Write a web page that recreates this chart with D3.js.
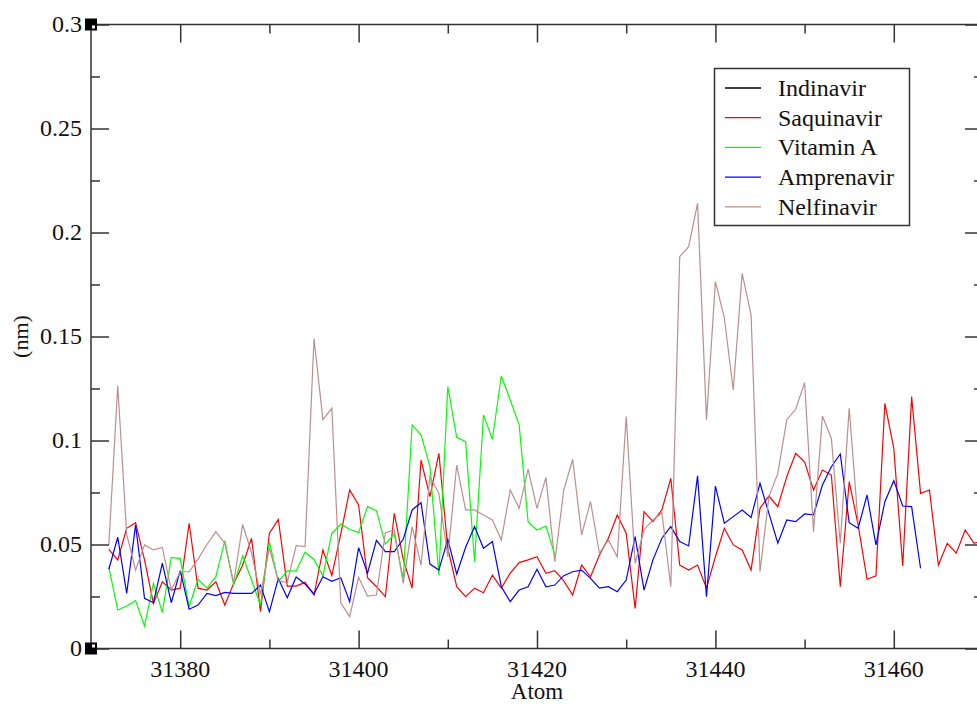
<!DOCTYPE html>
<html>
<head>
<meta charset="utf-8">
<script src="https://cdn.jsdelivr.net/npm/d3@7"></script>
<style>
  html, body { margin: 0; padding: 0; background: #fff; }
  svg { display: block; }
</style>
</head>
<body>
<script>
// first atom of every series, one value per atom after that
const startAtom = 31372;

const indinavir = []; // listed in the legend, no visible trace

const saquinavir = [
  0.0477, 0.0426, 0.0578, 0.0605, 0.0426, 0.0217, 0.0321, 0.0281, 0.029, 0.0602,
  0.029, 0.0281, 0.0321, 0.0209, 0.0313, 0.040, 0.053, 0.0177, 0.0554, 0.0621,
  0.030, 0.030, 0.0318, 0.0257, 0.0474, 0.0351, 0.055, 0.0762, 0.069, 0.034,
  0.0297, 0.0249, 0.065, 0.043, 0.029, 0.0906, 0.073, 0.0938, 0.0482, 0.0297,
  0.0249, 0.029, 0.0268, 0.0353, 0.029, 0.0362, 0.0413, 0.0426, 0.0441, 0.0362,
  0.0374, 0.0325, 0.0257, 0.0401, 0.0345, 0.045, 0.053, 0.0642, 0.0554, 0.0193,
  0.0658, 0.061, 0.0666, 0.0818, 0.0401, 0.0377, 0.0401, 0.029, 0.0441, 0.0578,
  0.0498, 0.0474, 0.0377, 0.0674, 0.0733, 0.0682, 0.0826, 0.0938, 0.0898, 0.0762,
  0.0858, 0.0834, 0.0297, 0.0802, 0.0594, 0.0333, 0.0349, 0.1179, 0.0962, 0.0397,
  0.1211, 0.0746, 0.0762, 0.0401, 0.0506, 0.0458, 0.057, 0.0506, 0.052
];

const vitaminA = [
  0.039, 0.0185, 0.0204, 0.023, 0.0108, 0.0313, 0.0174, 0.0438, 0.0432, 0.0201,
  0.0333, 0.029, 0.0345, 0.0519, 0.0305, 0.0445, 0.0329, 0.0209, 0.0514, 0.0321,
  0.0373, 0.0373, 0.0463, 0.0428, 0.0349, 0.0554, 0.0598, 0.0573, 0.0557, 0.0682,
  0.0663, 0.0502, 0.055, 0.0335, 0.1075, 0.1027, 0.0874, 0.0353, 0.1259, 0.1015,
  0.0994, 0.0417, 0.1123, 0.1006, 0.131, 0.1195, 0.1075, 0.061, 0.057, 0.0589,
  0.045
];

const amprenavir = [
  0.0381, 0.0535, 0.0265, 0.0594, 0.0241, 0.022, 0.041, 0.022, 0.0374, 0.0189,
  0.0209, 0.0265, 0.0254, 0.027, 0.0265, 0.0265, 0.0265, 0.0305, 0.0177, 0.0337,
  0.0244, 0.0344, 0.031, 0.0262, 0.0345, 0.0323, 0.034, 0.0225, 0.0485, 0.0362,
  0.052, 0.0466, 0.0466, 0.0525, 0.0666, 0.0701, 0.0406, 0.0377, 0.0525, 0.0358,
  0.0487, 0.0586, 0.0482, 0.0514, 0.0297, 0.0225, 0.0281, 0.0297, 0.0381, 0.0297,
  0.0305, 0.035, 0.0369, 0.0377, 0.0337, 0.029, 0.0297, 0.0273, 0.0329, 0.0538,
  0.0281, 0.0426, 0.053, 0.0586, 0.0514, 0.0493, 0.083, 0.0249, 0.0781, 0.0602,
  0.0634, 0.0666, 0.063, 0.0794, 0.065, 0.0506, 0.0618, 0.061, 0.0647, 0.0642,
  0.0786, 0.0874, 0.0935, 0.0605, 0.0578, 0.0738, 0.0498, 0.0706, 0.0807, 0.0685,
  0.0682, 0.0386
];

const nelfinavir = [
  0.0498, 0.1263, 0.055, 0.0377, 0.0498, 0.0474, 0.0486, 0.0281, 0.0369, 0.0369,
  0.043, 0.05, 0.0562, 0.0506, 0.0317, 0.0596, 0.046, 0.026, 0.0482, 0.0325,
  0.0317, 0.0495, 0.049, 0.149, 0.11, 0.1155, 0.022, 0.0153, 0.0342, 0.0252,
  0.0257, 0.0557, 0.057, 0.0313, 0.0586, 0.0401, 0.0826, 0.0746, 0.0441, 0.0882,
  0.0666, 0.0666, 0.0642, 0.0618, 0.0522, 0.0762, 0.0674, 0.0862, 0.0674, 0.0823,
  0.0417, 0.0762, 0.091, 0.0546, 0.0706, 0.0458, 0.0522, 0.0441, 0.1115, 0.041,
  0.057, 0.0618, 0.0653, 0.0297, 0.1884, 0.1932, 0.214, 0.11, 0.1764, 0.159,
  0.1243, 0.1804, 0.1603, 0.0369, 0.073, 0.0842, 0.11, 0.115, 0.1278, 0.0562,
  0.1118, 0.101, 0.0506, 0.1155, 0.0602
];

const seriesNames = ["Indinavir", "Saquinavir", "Vitamin A", "Amprenavir", "Nelfinavir"];
const seriesValues = [indinavir, saquinavir, vitaminA, amprenavir, nelfinavir];
const seriesColors = ["#000000", "#ff0000", "#00ff00", "#0000ff", "#bc8f8f"];

const xDomain = [31370, 31470];
const yDomain = [0, 0.3];
const xMajorTicks = [31380, 31400, 31420, 31440, 31460];
const xMinorTicks = [31390, 31410, 31430, 31450];
const yMajorTicks = [0, 0.05, 0.1, 0.15, 0.2, 0.25, 0.3];
const yMinorTicks = [0.025, 0.075, 0.125, 0.175, 0.225, 0.275];
const yTickLabels = ["0", "0.05", "0.1", "0.15", "0.2", "0.25", "0.3"];

const width = 977, height = 704;
const plot = { left: 91, right: 983, top: 24.5, bottom: 648.5 };
const font = "'Liberation Serif', 'Times New Roman', serif";
const frameColor = "#333";

const x = d3.scaleLinear().domain(xDomain).range([plot.left, plot.right]);
const y = d3.scaleLinear().domain(yDomain).range([plot.bottom, plot.top]);

const svg = d3.select("body").append("svg")
  .attr("width", width)
  .attr("height", height)
  .style("font-family", font);

svg.append("defs").append("clipPath").attr("id", "clip")
  .append("rect")
  .attr("x", plot.left).attr("y", plot.top)
  .attr("width", plot.right - plot.left)
  .attr("height", plot.bottom - plot.top);

// data lines
const line = d3.line()
  .x((d, i) => x(startAtom + i))
  .y(d => y(d));

const lines = svg.append("g").attr("clip-path", "url(#clip)");
seriesValues.forEach((vals, k) => {
  if (!vals.length) return;
  lines.append("path")
    .datum(vals)
    .attr("d", line)
    .attr("fill", "none")
    .attr("stroke", seriesColors[k])
    .attr("stroke-width", 1.2)
    .attr("stroke-linejoin", "miter");
});

// frame with inward ticks on all four sides
const majorLen = 18, minorLen = 9;

function inwardAxis(axisFn, scale, ticks, len, pos) {
  return svg.append("g")
    .attr("transform", pos)
    .call(axisFn(scale).tickValues(ticks).tickSize(-len).tickFormat(""))
    .call(g => g.select(".domain").remove())
    .call(g => g.selectAll("line").attr("stroke", frameColor).attr("stroke-width", 1.5));
}

inwardAxis(d3.axisBottom, x, xMajorTicks, majorLen, `translate(0,${plot.bottom})`);
inwardAxis(d3.axisBottom, x, xMinorTicks, minorLen, `translate(0,${plot.bottom})`);
inwardAxis(d3.axisTop, x, xMajorTicks, majorLen, `translate(0,${plot.top})`);
inwardAxis(d3.axisTop, x, xMinorTicks, minorLen, `translate(0,${plot.top})`);
inwardAxis(d3.axisLeft, y, yMajorTicks, majorLen, `translate(${plot.left},0)`);
inwardAxis(d3.axisLeft, y, yMinorTicks, minorLen, `translate(${plot.left},0)`);
inwardAxis(d3.axisRight, y, yMajorTicks, majorLen, `translate(${plot.right},0)`);
inwardAxis(d3.axisRight, y, yMinorTicks, minorLen, `translate(${plot.right},0)`);

svg.append("rect")
  .attr("x", plot.left).attr("y", plot.top)
  .attr("width", plot.right - plot.left)
  .attr("height", plot.bottom - plot.top)
  .attr("fill", "none")
  .attr("stroke", frameColor)
  .attr("stroke-width", 1.5);

// tick labels
svg.append("g").selectAll("text")
  .data(xMajorTicks)
  .join("text")
  .attr("x", d => x(d))
  .attr("y", plot.bottom + 28)
  .attr("text-anchor", "middle")
  .style("font-size", "24px")
  .attr("fill", "#111")
  .text(d => d);

svg.append("g").selectAll("text")
  .data(yMajorTicks)
  .join("text")
  .attr("x", plot.left - 9)
  .attr("y", d => y(d))
  .attr("dy", "0.33em")
  .attr("text-anchor", "end")
  .style("font-size", "24px")
  .attr("fill", "#111")
  .text((d, i) => yTickLabels[i]);

// corner markers left by the plotting program
[plot.top, plot.bottom].forEach((cy, i) => {
  svg.append("rect")
    .attr("x", plot.left - 6).attr("y", cy - 6)
    .attr("width", 12).attr("height", 12)
    .attr("fill", "#000");
  svg.append("rect")
    .attr("x", plot.left + 1).attr("y", i === 0 ? cy + 1 : cy - 4)
    .attr("width", 3).attr("height", 3)
    .attr("fill", "#fff");
});

// axis titles
svg.append("text")
  .attr("x", x(31420))
  .attr("y", 699)
  .attr("text-anchor", "middle")
  .style("font-size", "23px")
  .attr("fill", "#111")
  .text("Atom");

svg.append("text")
  .attr("transform", `translate(28,${y(0.15)}) rotate(-90)`)
  .attr("text-anchor", "middle")
  .style("font-size", "22px")
  .attr("fill", "#111")
  .text("(nm)");

// legend
const legend = svg.append("g");
legend.append("rect")
  .attr("x", 714.5).attr("y", 68.5)
  .attr("width", 195).attr("height", 157)
  .attr("fill", "#fff")
  .attr("stroke", frameColor)
  .attr("stroke-width", 1.5);

seriesNames.forEach((name, k) => {
  const ly = 88 + k * 29.7;
  legend.append("line")
    .attr("x1", 725).attr("x2", 761)
    .attr("y1", ly).attr("y2", ly)
    .attr("stroke", seriesColors[k])
    .attr("stroke-width", k === 0 ? 1.5 : 1.2);
  legend.append("text")
    .attr("x", 778)
    .attr("y", ly)
    .attr("dy", "0.33em")
    .style("font-size", "24px")
    .attr("fill", "#111")
    .text(name);
});
</script>
</body>
</html>
